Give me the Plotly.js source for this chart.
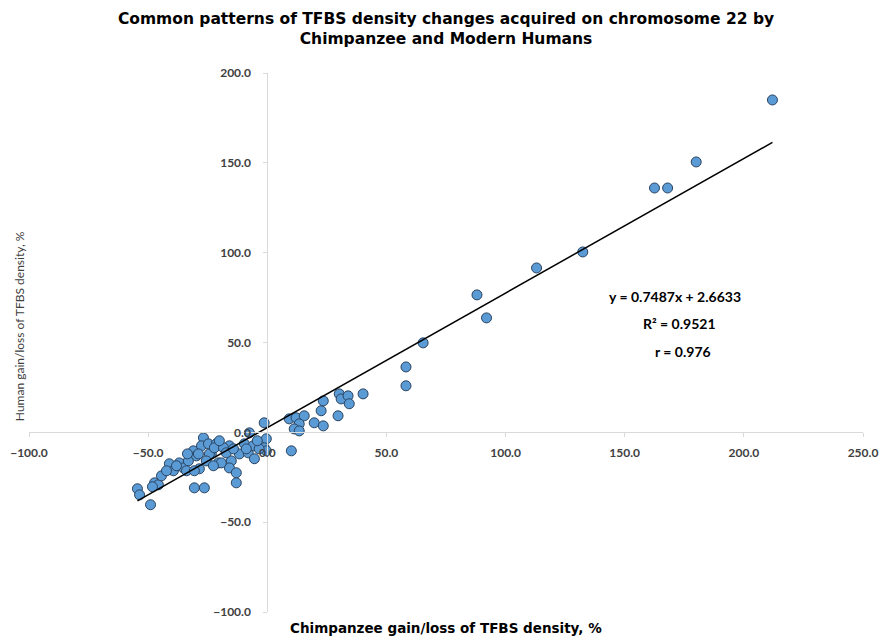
<!DOCTYPE html>
<html>
<head>
<meta charset="utf-8">
<script src="https://cdn.plot.ly/plotly-3.0.1.min.js"></script>
<style>html,body{margin:0;padding:0;background:#fff}#chart{width:884px;height:643px}</style>
</head>
<body>
<div id="chart"></div>
<script>
// Chimpanzee gain/loss (%) for each chromosome 22 region
const chimpX = [
  -54.5,-53.6,-49.0,-47.3,-45.7,-48.2,-41.1,-39.4,-36.9,-35.2,
  -33.1,-31.0,-29.7,-30.6,-26.4,-28.5,-26.8,-27.6,-24.7,-23.5,
  -21.4,-20.5,-15.9,-15.1,-15.9,-13.0,-13.0,-11.7,-8.0,-7.5,
  -5.4,-1.3,-0.4,-1.3,-9.6,-5.9,-0.4,9.2,12.1,15.5,
  13.4,11.3,13.4,19.7,23.5,22.6,23.5,29.7,30.2,31.0,
  33.9,34.4,40.2,10.1,-33.5,-28.9,-24.3,-33.9,-30.6,-19.3,
  -8.8,-22.2,-44.4,-42.3,-38.1,-18.4,-20.1,-17.2,-14.2,-25.6,
  -22.6,-3.4,-4.2,
  212.0,180.0,168.0,162.5,132.4,113.0,88.0,92.0,65.4,58.2,58.2
];
// Human gain/loss (%) for the same regions
const humanY = [
  -31.4,-34.8,-40.3,-28.1,-29.2,-30.3,-17.5,-21.4,-17.0,-19.8,
  -15.9,-10.3,-13.1,-30.9,-30.9,-20.3,-3.1,-7.5,-6.4,-12.0,
  -6.4,-17.0,-7.5,-15.9,-19.8,-22.5,-28.1,-12.0,-11.4,-0.3,
  -14.7,5.3,-3.6,-8.6,-6.4,-7.5,-10.3,7.5,8.1,9.2,
  4.7,1.9,0.8,5.3,3.6,12.0,17.5,9.2,21.4,18.6,
  20.3,15.9,21.4,-10.3,-12.0,-12.0,-12.0,-21.4,-21.4,-17.0,
  -9.2,-8.6,-24.2,-21.4,-18.6,-8.6,-4.7,-11.4,-9.2,-15.9,
  -18.6,-9.2,-4.7,
  185.0,150.5,136.0,136.0,100.4,91.5,76.5,63.7,49.8,36.4,25.9
];
// Linear trendline reported on the chart
const slope = 0.7487;
const intercept = 2.6633;
const rSquared = "0.9521";
const rValue = "0.976";
const xRange = [-100, 250];
const yRange = [-100, 200];

const xMin = Math.min(...chimpX), xMax = Math.max(...chimpX);
const trendX = [xMin, xMax];
const trendY = trendX.map(v => slope * v + intercept);

const fontFam = 'Lato, "Open Sans", sans-serif';
const wideFam = '"DejaVu Sans", Verdana, sans-serif';

const traces = [
  {
    x: chimpX, y: humanY, type: 'scatter', mode: 'markers',
    marker: {size: 10, color: '#5b9bd5', line: {color: '#2a4360', width: 1}},
    hoverinfo: 'x+y', showlegend: false
  },
  {
    x: trendX, y: trendY, type: 'scatter', mode: 'lines',
    line: {color: '#000000', width: 1.5}, showlegend: false, hoverinfo: 'skip'
  }
];

const yZeroFrac = (0 - yRange[0]) / (yRange[1] - yRange[0]);
const xZeroFrac = (0 - xRange[0]) / (xRange[1] - xRange[0]);

const tickFont = {family: fontFam, size: 12, color: '#404040', weight: 'bold'};

const layout = {
  width: 884, height: 643,
  margin: {l: 29, r: 21, t: 73, b: 31},
  paper_bgcolor: '#ffffff', plot_bgcolor: '#ffffff',
  font: {family: fontFam},
  title: {
    text: 'Common patterns of TFBS density changes acquired on chromosome 22 by<br>Chimpanzee and Modern Humans',
    font: {family: wideFam, size: 15.5, color: '#000000', weight: 'bold'},
    x: 0.5, xref: 'paper', xanchor: 'center',
    y: 0.963, yref: 'container', yanchor: 'top'
  },
  xaxis: {
    range: xRange, dtick: 50, tick0: 0, tickformat: '.1f',
    anchor: 'free', position: yZeroFrac,
    showline: true, linecolor: '#d9d9d9', linewidth: 1,
    ticks: 'outside', ticklen: 4, tickcolor: '#d9d9d9',
    showgrid: false, zeroline: false, tickfont: tickFont,
    ticklabelstandoff: 5, fixedrange: true
  },
  yaxis: {
    range: yRange, dtick: 50, tick0: 0, tickformat: '.1f',
    anchor: 'free', position: xZeroFrac,
    showline: true, linecolor: '#d9d9d9', linewidth: 1,
    ticks: 'outside', ticklen: 4, tickcolor: '#d9d9d9',
    showgrid: false, zeroline: false, tickfont: tickFont,
    ticklabelstandoff: 10, fixedrange: true
  },
  annotations: [
    {text: 'Chimpanzee gain/loss of TFBS density, %', xref: 'paper', yref: 'paper',
     x: 0.5, y: -0.03, xanchor: 'center', yanchor: 'middle', showarrow: false,
     font: {family: wideFam, size: 13.5, color: '#000000', weight: 'bold'}},
    {text: 'Human gain/loss of TFBS density, %', xref: 'paper', yref: 'paper',
     x: -0.011, y: 0.53, xanchor: 'center', yanchor: 'middle', textangle: -90, showarrow: false,
     font: {family: fontFam, size: 12, color: '#404040', weight: 'normal'}},
    {text: 'y = ' + slope + 'x + ' + intercept, xref: 'x', yref: 'y',
     x: 171, y: 75.5, xanchor: 'center', yanchor: 'middle', showarrow: false,
     font: {family: fontFam, size: 14, color: '#000000', weight: 'bold'}},
    {text: 'R² = ' + rSquared, xref: 'x', yref: 'y',
     x: 173, y: 60.5, xanchor: 'center', yanchor: 'middle', showarrow: false,
     font: {family: fontFam, size: 14, color: '#000000', weight: 'bold'}},
    {text: 'r = ' + rValue, xref: 'x', yref: 'y',
     x: 174.5, y: 45, xanchor: 'center', yanchor: 'middle', showarrow: false,
     font: {family: fontFam, size: 14, color: '#000000', weight: 'bold'}}
  ]
};

Plotly.newPlot('chart', traces, layout, {displayModeBar: false, staticPlot: true});
</script>
</body>
</html>
